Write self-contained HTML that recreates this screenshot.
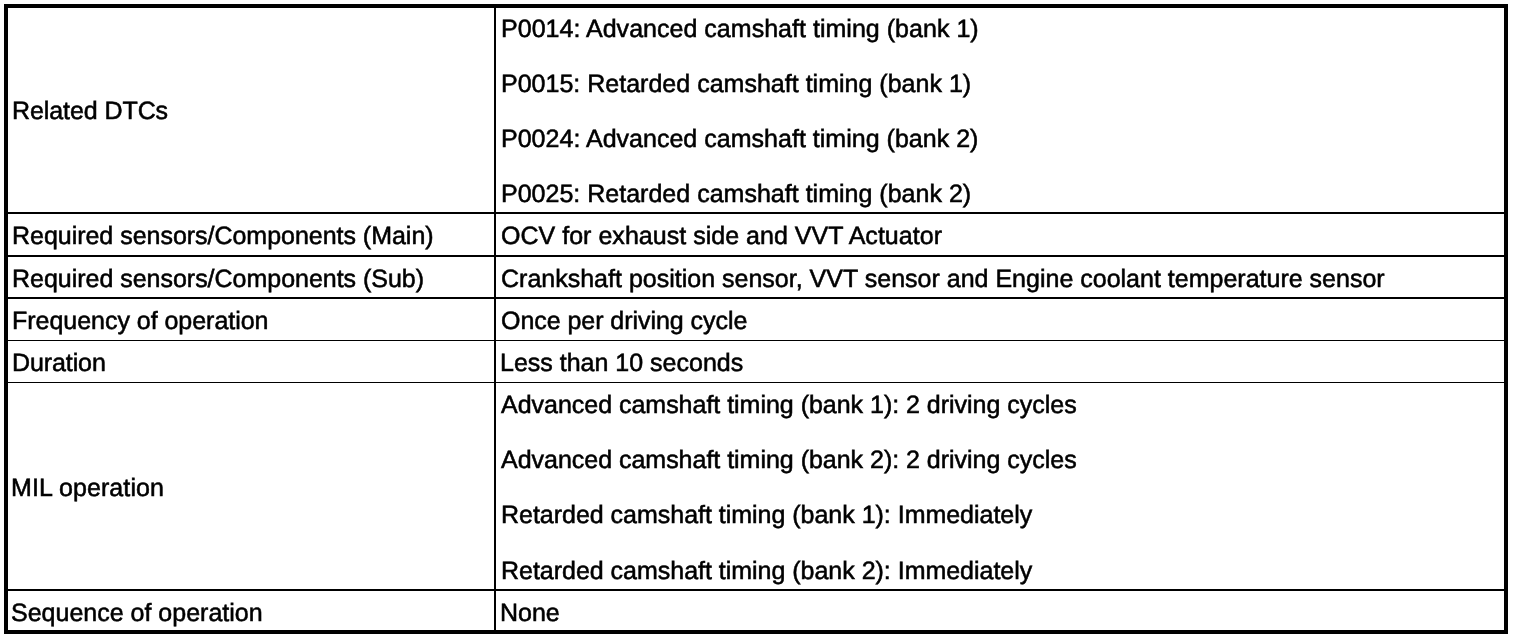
<!DOCTYPE html>
<html>
<head>
<meta charset="utf-8">
<title>Monitor description</title>
<style>
html,body{margin:0;padding:0;background:#fff;}
body{width:1520px;height:640px;position:relative;overflow:hidden;font-family:"Liberation Sans",sans-serif;font-size:25px;color:#000;}
.box{position:absolute;left:4px;top:4px;width:1496px;height:622px;border:4px solid #000;}
.h{position:absolute;left:8px;width:1496px;background:#000;}
.v{position:absolute;left:494px;top:8px;width:2px;height:622px;background:#000;}
.t{position:absolute;white-space:nowrap;line-height:28px;height:28px;-webkit-text-stroke:0.55px #000;text-rendering:geometricPrecision;margin-top:1px;}
.l{left:12px;}
.r{left:501px;}
</style>
</head>
<body>
<div class="box"></div>
<div class="v"></div>
<div class="h" style="top:212px;height:2px"></div>
<div class="h" style="top:255px;height:2px"></div>
<div class="h" style="top:297px;height:2px"></div>
<div class="h" style="top:340px;height:1px"></div>
<div class="h" style="top:382px;height:1px"></div>
<div class="h" style="top:589px;height:2px"></div>

<div class="t l" style="top:96px;letter-spacing:-0.08px">Related DTCs</div>
<div class="t r" style="top:14px;letter-spacing:0.025px">P0014: Advanced camshaft timing (bank 1)</div>
<div class="t r" style="top:69px;letter-spacing:0.012px">P0015: Retarded camshaft timing (bank 1)</div>
<div class="t r" style="top:124px;letter-spacing:0.02px">P0024: Advanced camshaft timing (bank 2)</div>
<div class="t r" style="top:179px;letter-spacing:0.012px">P0025: Retarded camshaft timing (bank 2)</div>

<div class="t l" style="top:221px;letter-spacing:-0.025px">Required sensors/Components (Main)</div>
<div class="t r" style="top:221px;letter-spacing:0.025px">OCV for exhaust side and VVT Actuator</div>

<div class="t l" style="top:264px;letter-spacing:-0.02px">Required sensors/Components (Sub)</div>
<div class="t r" style="top:264px;letter-spacing:0.004px">Crankshaft position sensor, VVT sensor and Engine coolant temperature sensor</div>

<div class="t l" style="top:306px;letter-spacing:-0.03px">Frequency of operation</div>
<div class="t r" style="top:306px;letter-spacing:-0.045px">Once per driving cycle</div>

<div class="t l" style="top:348px;letter-spacing:-0.1px">Duration</div>
<div class="t r" style="top:348px;margin-left:-1px">Less than 10 seconds</div>

<div class="t l" style="top:473px;margin-left:-1px;letter-spacing:0.08px">MIL operation</div>
<div class="t r" style="top:390px;letter-spacing:-0.02px">Advanced camshaft timing (bank 1): 2 driving cycles</div>
<div class="t r" style="top:445px;letter-spacing:-0.02px">Advanced camshaft timing (bank 2): 2 driving cycles</div>
<div class="t r" style="top:500px;letter-spacing:-0.02px">Retarded camshaft timing (bank 1): Immediately</div>
<div class="t r" style="top:556px;letter-spacing:-0.02px">Retarded camshaft timing (bank 2): Immediately</div>

<div class="t l" style="top:598px;margin-left:-1px">Sequence of operation</div>
<div class="t r" style="top:598px;margin-left:-1px">None</div>
</body>
</html>
